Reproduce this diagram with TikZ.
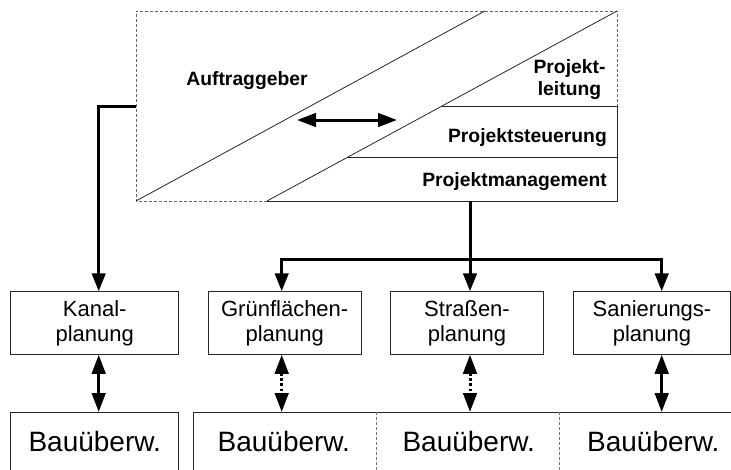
\documentclass[tikz,border=0pt]{standalone}
\usepackage{fontspec}
\setmainfont{Liberation Sans}
\usetikzlibrary{arrows.meta}
\begin{document}
\begin{tikzpicture}[x=1pt,y=-1pt,
  conn/.style={line width=3pt, -{Triangle[length=18pt,width=13.5pt]}},
  twoway/.style={line width=3pt, {Triangle[length=19pt,width=13.5pt]}-{Triangle[length=19pt,width=13.5pt]}},
  dotway/.style={twoway, dash pattern=on 2.6pt off 2.6pt},
  thinline/.style={line width=0.8pt, draw=black!85},
  dashborder/.style={line width=0.8pt, draw=black!60, dash pattern=on 3pt off 2pt},
  planbox/.style={draw=black!85, line width=0.9pt, minimum height=62.6pt, inner sep=0pt,
    align=center, font=\fontsize{22}{25}\selectfont},
  baubox/.style={draw=black!85, line width=0.9pt, minimum height=80pt, inner sep=0pt, anchor=north},
  bautext/.style={anchor=base, inner sep=0pt, font=\fontsize{28}{30}\selectfont},
  toptext/.style={anchor=base, inner sep=0pt, font=\bfseries\fontsize{19.3}{22}\selectfont},
  divider/.style={line width=0.8pt, draw=black!55, dash pattern=on 3pt off 2pt}
]
\useasboundingbox (0,0) rectangle (731,469);
\clip (0,0) rectangle (731,469);

% top organisation box
\coordinate (TL) at (136,11);
\coordinate (TR) at (617,11);
\coordinate (BR) at (617,201);
\coordinate (BL) at (136,201);
\coordinate (D1) at (485,11);
\coordinate (D2) at (267,201);
\coordinate (R1) at (617,106);
\coordinate (L1) at (442,106);
\coordinate (R2) at (617,157);
\coordinate (L2) at (348.05,157);

\draw[dashborder] (D2) -- (BL) -- (TL) -- (TR) -- (R1);
\draw[thinline] (R1) -- (BR) -- (D2);
\draw[thinline] (BL) -- (D1);
\draw[thinline] (D2) -- (TR);
\draw[thinline] (L1) -- (R1);
\draw[thinline] (L2) -- (R2);

\node[toptext] (auftr) at (247,85.3) {Auftraggeber};
\node[toptext, anchor=base] (pl1) at (569.5,73.3) {Projekt-};
\node[toptext, anchor=base] (pl2) at (569.5,95) {leitung};
\node[toptext, anchor=base east] (ps) at (607,142.7) {Projektsteuerung};
\node[toptext, anchor=base east] (pm) at (607,186.7) {Projektmanagement};

\coordinate (arL) at (297,120);
\coordinate (arR) at (397,120);
\draw[twoway] (arL) -- (arR);

% planning boxes
\node[planbox, minimum width=168pt] (kanal) at (94.7,323) {Kanal-\\planung};
\node[planbox, minimum width=152.7pt] (gruen) at (284.7,323) {Grünflächen-\\planung};
\node[planbox, minimum width=152.6pt] (strasse) at (467,323) {Straßen-\\planung};
\node[planbox, minimum width=157.4pt] (sanier) at (652,323) {Sanierungs-\\planung};

% Bauueberwachung boxes
\node[baubox, minimum width=168pt] (bau1) at (94.7,412) {};
\node[baubox, anchor=north west, minimum width=560pt] (bau2) at (193.3,412) {};
\coordinate (dv1) at (376,412);
\coordinate (dv2) at (559.3,412);
\draw[divider] (dv1) -- ++(0,70);
\draw[divider] (dv2) -- ++(0,70);

\node[bautext] (t1) at (94.7,451.7) {Bauüberw.};
\node[bautext] (t2) at (283.8,451.7) {Bauüberw.};
\node[bautext] (t3) at (468.7,451.7) {Bauüberw.};
\node[bautext] (t4) at (653.3,451.7) {Bauüberw.};

% connectors
\coordinate (lstart) at (136,106);
\coordinate (kx) at (98.7,106);
\draw[conn] (lstart) -- (kx) -- (kx |- kanal.north);

\coordinate (pmb) at (470,201);
\coordinate (hl) at (281.7,259);
\coordinate (hr) at (661.7,259);
\draw[conn] (pmb) -- (pmb |- strasse.north);
\draw[conn] (hl -| pmb) -- (hl) -- (hl |- gruen.north);
\draw[conn] (hl -| pmb) -- (hr) -- (hr |- sanier.north);

\draw[twoway] (kx |- kanal.south) -- (kx |- bau1.north);
\draw[dotway] (hl |- gruen.south) -- (hl |- bau2.north);
\draw[dotway] (pmb |- strasse.south) -- (pmb |- bau2.north);
\draw[twoway] (hr |- sanier.south) -- (hr |- bau2.north);
\end{tikzpicture}
\end{document}
